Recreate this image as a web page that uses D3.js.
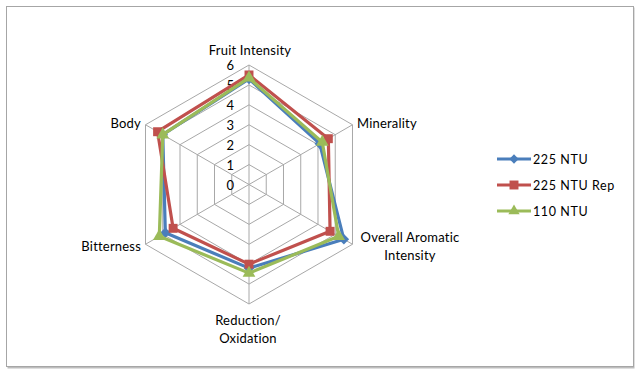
<!DOCTYPE html>
<html>
<head>
<meta charset="utf-8">
<script src="https://d3js.org/d3.v7.min.js"></script>
<style>
  body { margin: 0; background: #fff; }
  svg { display: block; font-family: Lato, "Open Sans", sans-serif; }
</style>
</head>
<body>
<div id="chart"></div>
<script>
// Radar chart: sensory attributes
const axes = ['Fruit Intensity', 'Minerality', 'Overall Aromatic Intensity', 'Reduction/ Oxidation', 'Bitterness', 'Body'];
const ticks = [0, 1, 2, 3, 4, 5, 6];
const seriesNames = ['225 NTU', '225 NTU Rep', '110 NTU'];
const ntu225 = [5.3, 4.1, 5.5, 4.2, 4.85, 5.0];
const ntu225Rep = [5.5, 4.6, 4.7, 4.0, 4.4, 5.3];
const ntu110 = [5.35, 4.25, 5.2, 4.45, 5.2, 5.0];

const W = 640, H = 374;
const cx = 249, cy = 184.5, R = 119.5;
const colors = ['#4A7EBB', '#C0504D', '#9BBB59'];
const symbols = [d3.symbolDiamond2, d3.symbolSquare, d3.symbolTriangle];

const svg = d3.select('#chart').append('svg')
    .attr('width', W)
    .attr('height', H);

// outer frame with a soft shadow
svg.append('rect')
    .attr('x', 7.5).attr('y', 7.5)
    .attr('width', 627).attr('height', 361)
    .attr('fill', '#bdbdbd');
svg.append('rect')
    .attr('x', 6.5).attr('y', 6.5)
    .attr('width', 627).attr('height', 360)
    .attr('fill', '#fff')
    .attr('stroke', '#a6a6a6');

const r = d3.scaleLinear().domain([0, 6]).range([0, R]);
const angle = i => i * 2 * Math.PI / axes.length;
const pt = (i, v) => [cx + r(v) * Math.sin(angle(i)), cy - r(v) * Math.cos(angle(i))];

const g = svg.append('g');

// hexagon grid
ticks.slice(1).forEach(t => {
    g.append('path')
        .attr('d', d3.line()(axes.map((a, i) => pt(i, t))) + 'Z')
        .attr('fill', 'none')
        .attr('stroke', '#a8a8a8')
        .attr('stroke-width', 1);
});
axes.forEach((a, i) => {
    g.append('line')
        .attr('x1', cx).attr('y1', cy)
        .attr('x2', pt(i, 6)[0]).attr('y2', pt(i, 6)[1])
        .attr('stroke', '#a8a8a8');
});

// tick labels on the top axis
ticks.forEach(t => {
    g.append('text')
        .attr('x', cx - 15)
        .attr('y', cy - r(t) + 5)
        .attr('text-anchor', 'end')
        .style('font-size', '13px')
        .attr('fill', '#000')
        .text(t);
});

// axis labels
const labelPos = [
    { x: 250, y: 55, anchor: 'middle', lines: ['Fruit Intensity'] },
    { x: 357, y: 128, anchor: 'start', lines: ['Minerality'] },
    { x: 410, y: 242, anchor: 'middle', lines: ['Overall Aromatic', 'Intensity'] },
    { x: 248, y: 325, anchor: 'middle', lines: ['Reduction/', 'Oxidation'] },
    { x: 141, y: 251, anchor: 'end', lines: ['Bitterness'] },
    { x: 141, y: 128, anchor: 'end', lines: ['Body'] }
];
labelPos.forEach(lp => {
    const t = g.append('text')
        .attr('text-anchor', lp.anchor)
        .style('font-size', '13px')
        .style('letter-spacing', '0.2px')
        .attr('fill', '#000');
    lp.lines.forEach((ln, k) => {
        t.append('tspan').attr('x', lp.x).attr('y', lp.y + k * 18).text(ln);
    });
});

// series
const allSeries = [ntu225, ntu225Rep, ntu110];
const radarLine = d3.line().curve(d3.curveLinearClosed);
allSeries.forEach((vals, s) => {
    const pts = vals.map((v, i) => pt(i, v));
    g.append('path')
        .attr('d', radarLine(pts))
        .attr('fill', 'none')
        .attr('stroke', colors[s])
        .attr('stroke-width', 3.2)
        .attr('stroke-linejoin', 'round');
    g.selectAll(null)
        .data(pts)
        .enter().append('path')
        .attr('transform', d => `translate(${d[0]},${d[1]})`)
        .attr('d', d3.symbol().type(symbols[s]).size(s === 1 ? 80 : 70))
        .attr('fill', colors[s]);
});

// legend
const legend = svg.append('g').attr('transform', 'translate(497,159)');
seriesNames.forEach((name, s) => {
    const row = legend.append('g').attr('transform', `translate(0,${s * 26})`);
    row.append('line')
        .attr('x1', 0).attr('x2', 34)
        .attr('stroke', colors[s])
        .attr('stroke-width', 3.2);
    row.append('path')
        .attr('transform', 'translate(17,0)')
        .attr('d', d3.symbol().type(symbols[s]).size(s === 1 ? 80 : 55))
        .attr('fill', colors[s]);
    row.append('text')
        .attr('x', 36)
        .attr('y', 5)
        .style('font-size', '12.5px')
        .style('letter-spacing', '0.6px')
        .attr('fill', '#000')
        .text(name);
});
</script>
</body>
</html>
